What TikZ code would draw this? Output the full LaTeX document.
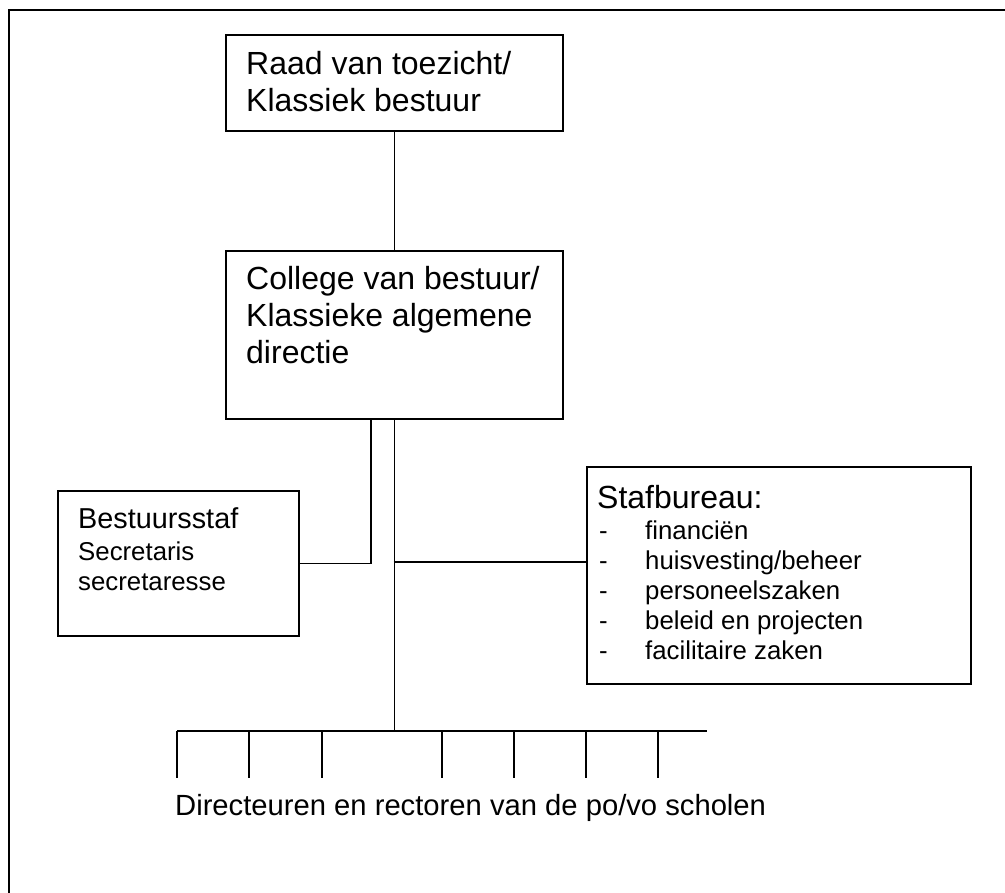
\documentclass[tikz,border=0pt]{standalone}
\usepackage{fontspec}
\setmainfont{Liberation Sans}
\newcommand{\listitem}[1]{\makebox[46pt][l]{-}#1}
\begin{document}
\begin{tikzpicture}[x=1pt,y=-1pt,
  orgbox/.style={draw,line width=1.8pt,inner sep=0pt,anchor=north west},
  boxtext/.style={inner sep=0pt,anchor=base west,align=left},
  bigtext/.style={boxtext,font=\fontsize{32}{37}\selectfont},
  smalltext/.style={boxtext,font=\fontsize{25.8}{30}\selectfont},
  conn/.style={line width=1.8pt}]
  \useasboundingbox (0,0) rectangle (1005,893);
  \draw[line width=2.4pt] (9,893) -- (9,10) -- (1005,10);
  % boxes
  \node[orgbox,minimum width=337pt,minimum height=96pt] (raad) at (225,34) {};
  \node[orgbox,minimum width=337pt,minimum height=168pt] (college) at (225,250) {};
  \node[orgbox,minimum width=241pt,minimum height=145pt] (bestuur) at (57,490) {};
  \node[orgbox,minimum width=384pt,minimum height=217pt] (staf) at (586,466) {};
  % texts (anchored at the baseline of the last line)
  \node[bigtext] (raadtxt) at (246,112) {Raad van toezicht/\\Klassiek bestuur};
  \node[bigtext] (collegetxt) at (246,364) {College van bestuur/\\Klassieke algemene\\directie};
  \node[boxtext,font=\fontsize{28.8}{32}\selectfont] (bestuurtxt) at (78,528) {Bestuursstaf};
  \node[smalltext] (secrtxt) at (78,590) {Secretaris\\secretaresse};
  \node[bigtext] (staftxt) at (597,508) {Stafbureau:};
  \node[smalltext,font=\fontsize{25.8}{29.8}\selectfont] (stafitems) at (599,659)
    {\listitem{financiën}\\\listitem{huisvesting/beheer}\\\listitem{personeelszaken}\\
     \listitem{beleid en projecten}\\\listitem{facilitaire zaken}};
  \node[boxtext,font=\fontsize{29.2}{34}\selectfont] (dirtxt) at (175,815)
    {Directeuren en rectoren van de po/vo scholen};
  % connectors
  \coordinate (busL) at (177,731);
  \coordinate (busR) at (707,731);
  \coordinate (stafjoin) at (393.5,562);
  \draw[conn] (raad) -- (college);
  \draw[conn] (college.south) -- (college.south |- busL);
  \draw[conn] ([xshift=-23.5pt]college.south) |- (bestuur.east);
  \draw[conn] (stafjoin) -- (stafjoin -| staf.west);
  \draw[conn] (busL) -- (busR);
  \foreach \x in {177,249,322,442,514,586,658}
    \draw[conn] (\x,731) -- (\x,778);
\end{tikzpicture}
\end{document}
